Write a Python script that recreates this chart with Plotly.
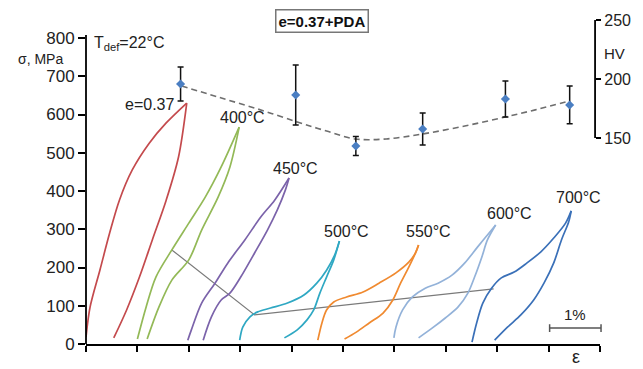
import plotly.graph_objects as go

# ---------------- data ----------------
SIG_TICKS = [0, 100, 200, 300, 400, 500, 600, 700, 800]
HV_TICKS = [150, 200, 250]
EPS_TICKS = list(range(0, 11))

# Hardness points (strain position, HV, error)
HV_EPS = [1.84, 4.08, 5.25, 6.55, 8.16, 9.41]
HV_VAL = [195.8, 186.4, 143.2, 157.6, 183.1, 178.0]
HV_ERR = [14.4, 25.4, 8.0, 13.5, 15.3, 16.0]
# dashed trend line through hardness
TREND_EPS = [1.86, 2.57, 3.34, 4.11, 4.68, 5.24, 5.84, 6.55, 7.37, 8.16, 8.81, 9.41]
TREND_HV = [194.1, 184.7, 174.6, 163.6, 155.9, 149.2, 149.2, 153.4, 160.2, 167.8, 174.6, 181.4]

# stress-strain loops (loading branch, unloading branch)
RED_LOAD_EPS = [0.0, 0.08, 0.27, 0.46, 0.65, 0.90, 1.23, 1.56, 1.96]
RED_LOAD_SIG = [18, 97, 193, 290, 376, 455, 525, 578, 630]
RED_UNL_EPS = [1.96, 1.80, 1.56, 1.29, 1.04, 0.79, 0.54]
RED_UNL_SIG = [630, 489, 376, 272, 175, 89, 16]

GRN_LOAD_EPS = [1.00, 1.17, 1.36, 1.67, 2.00, 2.32, 2.63, 2.98]
GRN_LOAD_SIG = [13, 97, 175, 246, 316, 384, 463, 567]
GRN_UNL_EPS = [2.98, 2.80, 2.57, 2.25, 2.00, 1.67, 1.42, 1.19]
GRN_UNL_SIG = [567, 463, 384, 298, 220, 167, 97, 13]

PUR_LOAD_EPS = [1.98, 2.05, 2.25, 2.51, 2.76, 3.09, 3.40, 3.67, 3.95]
PUR_LOAD_SIG = [10, 37, 107, 159, 212, 272, 332, 376, 434]
PUR_UNL_EPS = [3.95, 3.88, 3.72, 3.53, 3.28, 3.01, 2.80, 2.63, 2.44, 2.28]
PUR_UNL_SIG = [434, 403, 350, 298, 238, 175, 133, 115, 71, 10]

TEAL_LOAD_EPS = [2.99, 3.05, 3.19, 3.34, 3.59, 3.92, 4.24, 4.49, 4.68, 4.84, 4.93]
TEAL_LOAD_SIG = [10, 44, 71, 84, 94, 107, 128, 159, 193, 233, 269]
TEAL_UNL_EPS = [4.93, 4.82, 4.68, 4.55, 4.43, 4.30, 4.11, 3.86]
TEAL_UNL_SIG = [269, 220, 175, 133, 89, 63, 37, 16]

ORG_LOAD_EPS = [4.51, 4.59, 4.68, 4.82, 5.07, 5.39, 5.70, 6.03, 6.28, 6.41, 6.47]
ORG_LOAD_SIG = [10, 55, 89, 110, 123, 136, 159, 186, 214, 238, 259]
ORG_UNL_EPS = [6.47, 6.41, 6.28, 6.12, 5.97, 5.78, 5.51, 5.26, 5.03]
ORG_UNL_SIG = [259, 238, 201, 159, 115, 81, 55, 31, 13]

LBL_LOAD_EPS = [5.99, 6.03, 6.16, 6.35, 6.60, 6.85, 7.12, 7.37, 7.62, 7.89, 7.97]
LBL_LOAD_SIG = [16, 44, 89, 123, 146, 159, 180, 212, 254, 298, 311]
LBL_UNL_EPS = [7.97, 7.81, 7.70, 7.56, 7.43, 7.24, 6.99, 6.74, 6.47]
LBL_UNL_SIG = [311, 272, 227, 175, 133, 97, 68, 42, 16]

DBL_LOAD_EPS = [7.51, 7.60, 7.72, 7.89, 8.08, 8.33, 8.58, 8.85, 9.10, 9.33, 9.44]
DBL_LOAD_SIG = [5, 55, 107, 146, 173, 188, 212, 241, 277, 316, 348]
DBL_UNL_EPS = [9.44, 9.39, 9.25, 9.10, 8.91, 8.71, 8.46, 8.20, 7.95]
DBL_UNL_SIG = [348, 319, 272, 212, 159, 115, 76, 44, 10]

# thin gray connecting line
GRAY_EPS = [1.67, 3.28, 7.93]
GRAY_SIG = [246, 76, 144]

CURVE_LABELS = ["e=0.37", "400°C", "450°C", "500°C", "550°C", "600°C", "700°C"]
LABEL_EPS = [1.23, 3.05, 4.07, 5.07, 6.66, 8.23, 9.58]
LABEL_SIG = [625, 593, 460, 293, 293, 342, 382]

# ---------------- figure ----------------
COLORS = ["#c44a4d", "#93b957", "#7b63aa", "#2fa8c3", "#f08a30", "#93b2d9", "#3a70b8"]
loops = [
    (RED_LOAD_EPS, RED_LOAD_SIG, RED_UNL_EPS, RED_UNL_SIG),
    (GRN_LOAD_EPS, GRN_LOAD_SIG, GRN_UNL_EPS, GRN_UNL_SIG),
    (PUR_LOAD_EPS, PUR_LOAD_SIG, PUR_UNL_EPS, PUR_UNL_SIG),
    (TEAL_LOAD_EPS, TEAL_LOAD_SIG, TEAL_UNL_EPS, TEAL_UNL_SIG),
    (ORG_LOAD_EPS, ORG_LOAD_SIG, ORG_UNL_EPS, ORG_UNL_SIG),
    (LBL_LOAD_EPS, LBL_LOAD_SIG, LBL_UNL_EPS, LBL_UNL_SIG),
    (DBL_LOAD_EPS, DBL_LOAD_SIG, DBL_UNL_EPS, DBL_UNL_SIG),
]

fig = go.Figure()

fig.add_trace(go.Scatter(x=GRAY_EPS, y=GRAY_SIG, mode="lines",
                         line=dict(color="#7a7a7a", width=1.2), hoverinfo="skip"))

for (le, ls, ue, us), c in zip(loops, COLORS):
    for ex, sy in ((le, ls), (ue, us)):
        fig.add_trace(go.Scatter(x=ex, y=sy, mode="lines",
                                 line=dict(color=c, width=1.7, shape="spline", smoothing=0.9)))

fig.add_trace(go.Scatter(x=TREND_EPS, y=TREND_HV, yaxis="y2", mode="lines",
                         line=dict(color="#6e6e6e", width=1.6, dash="6px,4px", shape="spline")))
fig.add_trace(go.Scatter(x=HV_EPS, y=HV_VAL, yaxis="y2", mode="markers",
                         marker=dict(symbol="diamond", size=7, color="#4a7ec2"),
                         error_y=dict(type="data", array=HV_ERR, color="#111111",
                                      thickness=1.5, width=3),
                         cliponaxis=False))

FONT = "Arial, Liberation Sans, sans-serif"


def note(x, y, text, size, ref="paper", xanchor="center", **kw):
    return dict(x=x, y=y, xref=ref, yref=ref if ref == "paper" else "y", text=text,
                showarrow=False, xanchor=xanchor, yanchor="middle",
                font=dict(size=size, color="#222222", family=FONT), **kw)


annotations = []
for t, xe, ys in zip(CURVE_LABELS, LABEL_EPS, LABEL_SIG):
    annotations.append(note(xe, ys, t, 16, ref="x"))

annotations += [
    note(0.0115, 0.929, "T<sub>def</sub>=22°C", 16, xanchor="left"),
    note(-0.088, 0.880, "σ, MPa", 14),
    note(1.029, 0.898, "HV", 15),
    note(0.954, -0.040, "ε", 18),
    note(0.952, 0.090, "1%", 15),
    dict(x=0.459, y=0.997, xref="paper", yref="paper", text="<b>e=0.37+PDA</b>",
         showarrow=False, xanchor="center", yanchor="middle",
         bordercolor="#777777", borderwidth=1.5, borderpad=2,
         bgcolor="white", font=dict(size=15, color="#111111", family=FONT)),
]

shapes = [
    # left sigma axis line
    dict(type="line", xref="paper", yref="y", x0=0, x1=0, y0=0, y1=808,
         line=dict(color="black", width=1.8)),
    # right HV axis line
    dict(type="line", xref="paper", yref="y2", x0=0.9904, x1=0.9904, y0=150, y1=250,
         line=dict(color="black", width=1.8)),
    # 1% scale bar
    dict(type="line", xref="paper", yref="paper", x0=0.902, x1=1.002, y0=0.049, y1=0.049,
         line=dict(color="#555555", width=1.5)),
    dict(type="line", xref="paper", yref="paper", x0=0.902, x1=0.902, y0=0.037, y1=0.061,
         line=dict(color="#555555", width=1.5)),
    dict(type="line", xref="paper", yref="paper", x0=1.002, x1=1.002, y0=0.037, y1=0.061,
         line=dict(color="#555555", width=1.5)),
]

fig.update_layout(
    width=643, height=369,
    margin=dict(l=86, r=36, t=20, b=25),
    paper_bgcolor="white", plot_bgcolor="white",
    showlegend=False,
    font=dict(family=FONT, color="#222222"),
    xaxis=dict(range=[0, 10], tickvals=EPS_TICKS, showticklabels=False,
               ticks="outside", ticklen=6, tickwidth=1.5, tickcolor="black",
               showline=True, linecolor="black", linewidth=1.8,
               showgrid=False, zeroline=False),
    yaxis=dict(range=[0, 847.06], tickvals=SIG_TICKS, ticks="outside", ticklen=7,
               tickwidth=1.5, tickcolor="black", showline=False, showgrid=False,
               zeroline=False, tickfont=dict(size=17, color="#222222", family=FONT)),
    yaxis2=dict(range=[-24.6, 250], tickvals=HV_TICKS, overlaying="y", side="right",
                anchor="free", position=0.9904, ticks="outside", ticklen=5,
                tickwidth=1.5, tickcolor="black", showline=False, showgrid=False,
                zeroline=False, tickfont=dict(size=16, color="#222222", family=FONT)),
    annotations=annotations,
    shapes=shapes,
)

fig.write_html("out.html")
